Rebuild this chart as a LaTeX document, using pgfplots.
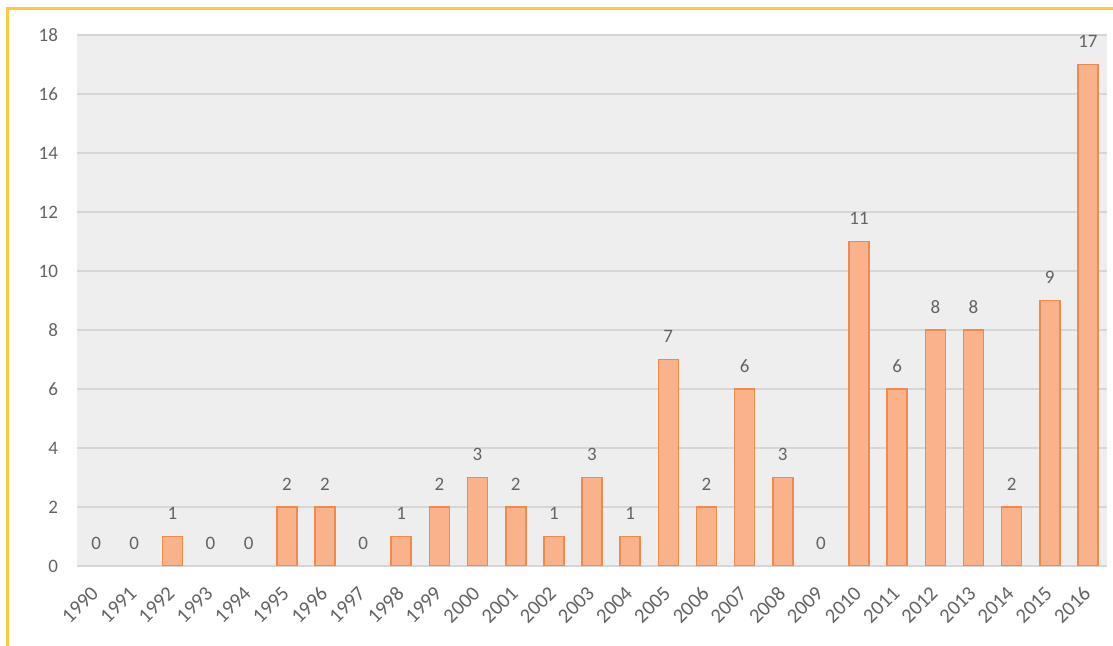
\documentclass[border=0pt]{standalone}
\usepackage{pgfplots}
\pgfplotsset{compat=1.18}
\usepackage{fontspec}
\setmainfont{Carlito}
\definecolor{barfill}{HTML}{F9B28A}
\definecolor{barline}{HTML}{EF8A4E}
\definecolor{txt}{HTML}{636363}
\definecolor{gridc}{HTML}{D6D6D6}
\definecolor{bg}{HTML}{EEEEEE}
\definecolor{framec}{HTML}{FFC93C}
\begin{document}
\begin{tikzpicture}[x=1pt,y=1pt]
\path[use as bounding box] (0,0) rectangle (556.5,323);
\draw[framec, line width=1.5pt] (3.5,0) -- (3.5,318.5) -- (556.5,318.5);
\begin{axis}[
  at={(38.5pt,40pt)}, anchor=south west,
  scale only axis, width=515pt, height=265.5pt,
  xmin=-0.5, xmax=26.5, ymin=0, ymax=18,
  ytick={0,2,...,18},
  xtick={0,...,26},
  xticklabels={1990,1991,1992,1993,1994,1995,1996,1997,1998,1999,2000,2001,2002,2003,2004,2005,2006,2007,2008,2009,2010,2011,2012,2013,2014,2015,2016},
  axis x line*=bottom, axis y line*=left,
  y axis line style={draw=none},
  x axis line style={gridc, line width=0.8pt},
  major tick length=0pt,
  ymajorgrids, grid style={gridc, line width=0.8pt},
  axis background/.style={fill=bg},
  /pgf/number format/assume math mode=true,
  ticklabel style={font=\fontsize{9.5}{11}\selectfont, text=txt},
  yticklabel style={xshift=-6pt},
  xticklabel style={font=\fontsize{10.3}{12}\selectfont, xshift=-3pt, yshift=-8pt, rotate=45, anchor=north east, inner sep=1pt},
  ybar, bar width=10pt, bar shift=0pt,
]
\addplot[fill=barfill, draw=barline, line width=0.8pt] coordinates {
(2,1) (5,2) (6,2) (8,1) (9,2) (10,3) (11,2) (12,1) (13,3) (14,1) (15,7) (16,2) (17,6) (18,3) (20,11) (21,6) (22,8) (23,8) (24,2) (25,9) (26,17)
};
\addplot[draw=none, fill=none, forget plot,
  nodes near coords,
  every node near coord/.append style={font=\fontsize{9.5}{11}\selectfont, text=txt, anchor=center, yshift=11.5pt}]
coordinates {
(0,0) (1,0) (2,1) (3,0) (4,0) (5,2) (6,2) (7,0) (8,1) (9,2) (10,3) (11,2) (12,1) (13,3) (14,1) (15,7) (16,2) (17,6) (18,3) (19,0) (20,11) (21,6) (22,8) (23,8) (24,2) (25,9) (26,17)
};
\end{axis}
\end{tikzpicture}
\end{document}
